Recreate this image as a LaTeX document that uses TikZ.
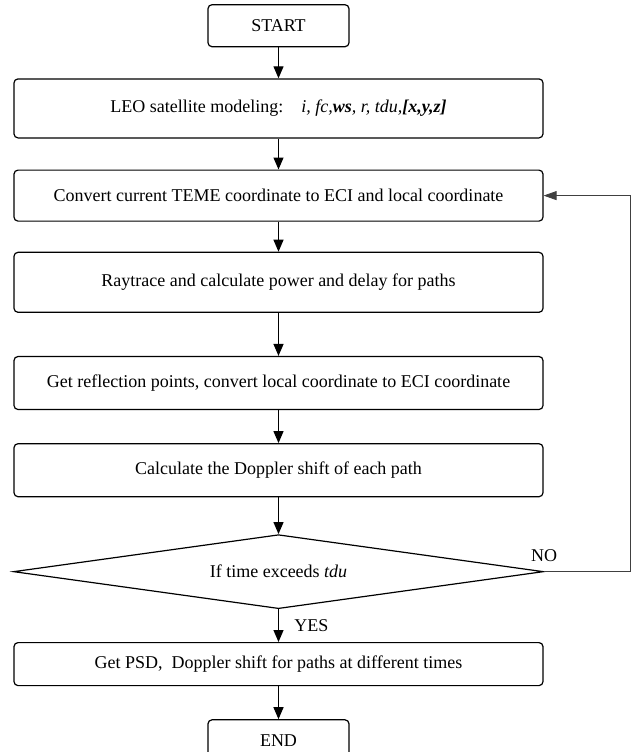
\documentclass[tikz,border=0pt]{standalone}
\usepackage{fontspec}
\setmainfont{Liberation Serif}
\usetikzlibrary{matrix,shapes.geometric,arrows.meta,positioning}

\begin{document}
\begin{tikzpicture}[very thick, font=\fontsize{18pt}{21pt}\selectfont,
	terminal/.style={draw, rounded corners=4pt, minimum width=141pt, minimum height=42pt},
	process/.style={draw, rounded corners=4pt, minimum width=529pt},
	decision/.style={draw, diamond, aspect=7.2, inner sep=0pt, minimum width=530pt, minimum height=74pt}]
		\useasboundingbox (0,0) rectangle (639pt,-752pt);
		\matrix (m) [matrix of nodes, row sep=31pt, inner sep=0pt, anchor=north] at (278.5pt,-3.5pt)
		{
			|[terminal]| START \\
			|[process, minimum height=59pt]| LEO satellite modeling:\quad \textit{i, fc,}\textbf{\textit{ws}}\textit{, r, tdu,}\textbf{\textit{[x,y,z]}} \\
			|[process, minimum height=51pt]| Convert current TEME coordinate to ECI and local coordinate \\[-1pt]
			|[process, minimum height=60pt]| Raytrace and calculate power and delay for paths \\[12pt]
			|[process, minimum height=53pt]| Get reflection points, convert local coordinate to ECI coordinate \\[2pt]
			|[process, minimum height=53pt]| Calculate the Doppler shift of each path \\[6pt]
			|[decision]| If time exceeds \textit{tdu} \\[2pt]
			|[process, minimum height=43pt]| Get PSD,\ \ Doppler shift for paths at different times \\[2pt]
			|[terminal, minimum height=41pt]| END \\
		};
		\path[-{Triangle[length=12pt,width=10pt]}]
			(m-1-1) edge (m-2-1) % start
			(m-2-1) edge (m-3-1)
			(m-3-1) edge (m-4-1)
			(m-4-1) edge (m-5-1)
			(m-5-1) edge (m-6-1)
			(m-6-1) edge (m-7-1)
			(m-7-1) edge node[right=12pt] {YES} (m-8-1) % exit loop
			(m-8-1) edge (m-9-1) % end
			;
		% back to the coordinate conversion
		\draw[thick, black!75, -{Triangle[length=13pt,width=9pt]}] (m-7-1.east) -- ++(86pt,0) |- (m-3-1.east);
		\node (no) [above=6pt of m-7-1.east] {NO};
		\end{tikzpicture}
\end{document}
